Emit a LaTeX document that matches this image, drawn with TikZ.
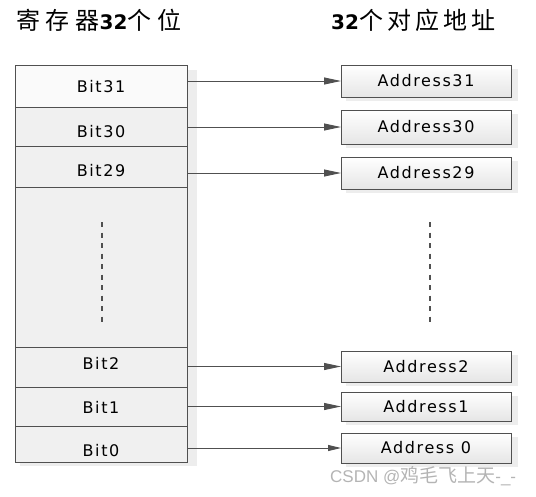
\documentclass[tikz,border=0pt]{standalone}
\usepackage{fontspec}
\setmainfont{DejaVu Sans}
\newfontfamily\labfont[LetterSpace=10]{DejaVu Sans}
\newfontfamily\numfont{DejaVu Sans}
\newfontfamily\cjkfontA[LetterSpace=24]{Noto Sans CJK SC}
\newfontfamily\cjkfontB[LetterSpace=17]{Noto Sans CJK SC}
\newfontfamily\wmcjk{Noto Sans CJK SC}
\newfontfamily\wmlat{Liberation Sans}
\usetikzlibrary{arrows.meta}
\definecolor{edgegray}{HTML}{505050}
\definecolor{rowfill}{HTML}{F0F0F0}
\definecolor{toprow}{HTML}{FAFAFA}
\definecolor{shad}{HTML}{E6E6E6}
\definecolor{wmgray}{HTML}{B4B4B4}
\tikzset{
  px/.style={x=1pt,y=-1pt},
  rowbox/.style={draw=edgegray, line width=0.9pt, fill=rowfill, minimum width=172pt, inner sep=0pt, outer sep=0pt},
  addrbox/.style={draw=edgegray, line width=0.9pt, top color=white, bottom color=black!10, minimum width=170pt, inner sep=0pt, outer sep=0pt, font=\labfont\fontsize{16}{18}\selectfont},
  bitlabel/.style={font=\labfont\fontsize{16}{18}\selectfont, inner sep=0pt},
  conn/.style={draw=edgegray, line width=0.9pt, -{Triangle[length=17pt,width=7pt]}},
  connsmall/.style={draw=edgegray, line width=0.9pt, -{Triangle[length=13pt,width=6pt]}},
  vdash/.style={draw=edgegray, line width=1.3pt, dash pattern=on 5pt off 5.5pt},
  titletext/.style={inner sep=0pt},
}
\begin{document}
\begin{tikzpicture}[px]
\useasboundingbox (0,0) rectangle (536,496);
% shadows
\fill[shad, opacity=0.7] (20,70) rectangle (197,466);
\foreach \ya/\yb in {65/97,110/144,157/189,351/382,392/421,433/463}
  \fill[shad, opacity=0.7] (346,\ya+4) rectangle (518,\yb+4);
% left column rows
\node[rowbox, fill=toprow, minimum height=42pt] (r31) at (101,86) {};
\node[rowbox, minimum height=39pt] (r30) at (101,126.5) {};
\node[rowbox, minimum height=41pt] (r29) at (101,166.5) {};
\node[rowbox, minimum height=160pt] (rmid) at (101,267) {};
\node[rowbox, minimum height=40pt] (r2) at (101,367) {};
\node[rowbox, minimum height=39pt] (r1) at (101,406.5) {};
\node[rowbox, minimum height=36pt] (r0) at (101,444) {};
% bit labels
\node[bitlabel] (t31) at (101,86.5) {Bit31};
\node[bitlabel] (t30) at (101,132) {Bit30};
\node[bitlabel] (t29) at (101,171) {Bit29};
\node[bitlabel] (t2) at (101,363) {Bit2};
\node[bitlabel] (t1) at (101,407.5) {Bit1};
\node[bitlabel] (t0) at (101,451) {Bit0};
% address boxes
\node[addrbox, minimum height=32pt] (a31) at (426,81) {Address31};
\node[addrbox, minimum height=34pt] (a30) at (426,127) {Address30};
\node[addrbox, minimum height=32pt] (a29) at (426,173) {Address29};
\node[addrbox, minimum height=31pt] (a2) at (426,366.5) {Address2};
\node[addrbox, minimum height=29pt] (a1) at (426,406.5) {Address1};
\node[addrbox, minimum height=30pt] (a0) at (426,448) {Address 0};
% connectors
\draw[conn] (r31.east |- a31.west) -- (a31.west);
\draw[conn] (r30.east |- a30.west) -- (a30.west);
\draw[conn] (r29.east |- a29.west) -- (a29.west);
\draw[conn] (r2.east |- a2.west) -- (a2.west);
\draw[conn] (r1.east |- a1.west) -- (a1.west);
\draw[connsmall] (r0.east |- a0.west) -- (a0.west);
% dashed ellipsis lines
\coordinate (dl1) at (102,222);
\coordinate (dl2) at (102,322);
\coordinate (dr1) at (430,222);
\coordinate (dr2) at (430,322);
\draw[vdash] (dl1) -- (dl2);
\draw[vdash] (dr1) -- (dr2);
% titles
\node[titletext, anchor=west, font=\cjkfontA\fontsize{24}{27}\selectfont] (title1) at (16,20) {寄存器{\numfont\bfseries\fontsize{20}{24}\selectfont 32}个位};
\node[titletext, anchor=west, font=\cjkfontB\fontsize{24}{27}\selectfont] (title2) at (331,20) {{\numfont\bfseries\fontsize{20}{24}\selectfont 32}个对应地址};
% watermark
\node[inner sep=0pt, anchor=west, text=wmgray] (wm) at (330,476) {{\wmlat\fontsize{17}{20}\selectfont CSDN @}{\wmcjk\fontsize{19}{22}\selectfont 鸡毛飞上天}{\wmlat\fontsize{17}{20}\selectfont -\_-}};
\end{tikzpicture}
\end{document}
